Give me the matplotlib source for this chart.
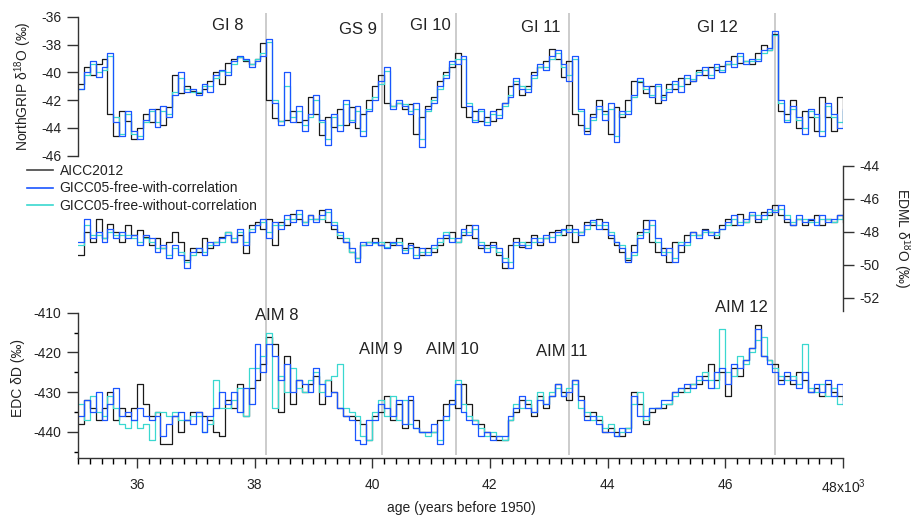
import numpy as np
import matplotlib
matplotlib.use("Agg")
import matplotlib.pyplot as plt
from matplotlib.ticker import MultipleLocator, FixedLocator, FixedFormatter
from matplotlib.lines import Line2D

plt.rcParams['font.family'] = ['Liberation Sans', 'DejaVu Sans']
plt.rcParams['mathtext.fontset'] = 'custom'
plt.rcParams['mathtext.rm'] = 'Liberation Sans'
plt.rcParams['mathtext.default'] = 'regular'
plt.rcParams['axes.unicode_minus'] = False

# ---------------- data (100-yr steps, 35.0 ka ... 48.0 ka) ----------------
age = list(range(35000, 48001, 100))

ngrip_aicc = [
    -40.8, -39.6, -40.2, -39.4, -39.0, -43.0, -44.6, -42.8, -43.5, -44.8,
    -44.0, -43.0, -43.6, -42.6, -43.8, -42.5, -40.2, -41.5, -41.0, -41.3,
    -41.5, -41.2, -40.6, -40.0, -40.8, -39.3, -39.0, -38.9, -39.2, -39.4,
    -39.0, -37.9, -42.0, -43.3, -43.5, -43.4, -42.8, -43.6, -43.4, -41.8,
    -43.0, -44.5, -43.2, -43.9, -42.6, -43.8, -42.5, -44.0, -43.0, -42.0,
    -41.0, -40.2, -42.2, -42.4, -42.2, -42.6, -42.3, -44.4, -43.2, -42.4,
    -41.8, -40.6, -40.0, -39.6, -38.6, -42.5, -43.2, -42.8, -43.5, -43.2,
    -43.5, -42.6, -42.2, -41.0, -40.8, -41.6, -41.0, -40.0, -39.6, -39.2,
    -38.3, -39.0, -40.3, -39.2, -43.0, -43.8, -44.2, -43.0, -42.0, -42.8,
    -44.4, -42.5, -43.2, -42.0, -40.6, -40.7, -41.5, -41.0, -42.2, -41.6,
    -40.8, -41.2, -40.4, -40.8, -40.6, -39.8, -40.2, -39.6, -39.8, -39.5,
    -39.4, -38.8, -39.3, -39.2, -39.4, -38.6, -38.0, -38.4, -37.2, -42.8,
    -43.0, -42.0, -44.0, -42.8, -43.2, -44.2, -41.8, -43.2, -44.2, -41.8,
    -43.6]
ngrip_with = [
    -41.2, -40.0, -39.2, -40.3, -39.6, -38.6, -43.6, -44.6, -42.8, -44.2,
    -44.8, -43.4, -42.6, -43.9, -42.4, -43.2, -41.6, -40.0, -41.4, -41.2,
    -41.6, -40.8, -41.4, -40.2, -39.8, -40.2, -39.2, -38.8, -39.0, -39.6,
    -39.2, -38.8, -37.6, -42.2, -43.8, -40.0, -43.6, -42.4, -44.2, -43.0,
    -41.6, -43.4, -45.2, -43.0, -44.2, -42.0, -43.6, -42.4, -44.6, -42.8,
    -42.0, -40.6, -39.6, -42.6, -42.0, -42.4, -43.0, -42.2, -45.4, -42.6,
    -42.2, -41.0, -40.4, -39.2, -39.4, -38.8, -42.4, -43.6, -42.6, -43.8,
    -42.8, -43.3, -42.2, -41.8, -40.4, -41.2, -41.4, -40.2, -39.4, -39.8,
    -38.8, -38.4, -39.4, -40.6, -38.8, -42.6, -44.4, -43.2, -42.4, -43.4,
    -42.2, -45.0, -42.8, -43.0, -41.6, -40.4, -41.0, -41.8, -40.8, -42.0,
    -41.4, -40.6, -41.4, -40.2, -40.6, -40.2, -39.6, -40.4, -39.4, -40.0,
    -39.2, -39.6, -38.6, -39.4, -39.0, -39.2, -38.4, -38.2, -37.0, -42.0,
    -43.6, -42.4, -43.2, -44.4, -42.6, -43.0, -44.6, -42.2, -43.0, -44.0,
    -42.6]
ngrip_without = [
    -41.2, -40.2, -39.4, -40.0, -39.8, -38.8, -43.2, -44.4, -43.0, -44.4,
    -44.6, -43.6, -42.8, -43.6, -42.8, -43.0, -41.4, -40.4, -41.2, -41.4,
    -41.4, -41.0, -41.0, -40.4, -39.9, -40.0, -39.4, -38.9, -39.1, -39.4,
    -39.0, -38.6, -37.8, -42.0, -43.5, -41.0, -43.2, -42.8, -43.8, -43.2,
    -42.0, -43.6, -44.8, -43.2, -43.8, -42.3, -43.4, -42.8, -44.2, -42.6,
    -41.8, -40.8, -39.9, -42.4, -42.2, -42.3, -42.8, -42.6, -44.8, -42.8,
    -42.0, -41.2, -40.2, -39.4, -39.0, -39.0, -42.2, -43.4, -42.8, -43.6,
    -43.0, -43.1, -42.4, -41.6, -40.6, -41.0, -41.2, -40.4, -39.6, -39.6,
    -39.0, -38.6, -39.6, -40.2, -39.0, -42.8, -44.0, -43.4, -42.6, -43.0,
    -42.6, -44.6, -43.0, -42.8, -41.8, -40.6, -41.2, -41.6, -41.0, -41.8,
    -41.2, -40.8, -41.0, -40.4, -40.5, -40.0, -39.8, -40.2, -39.6, -39.8,
    -39.4, -39.4, -38.8, -39.2, -39.2, -39.0, -38.6, -38.4, -37.3, -42.2,
    -43.4, -42.6, -43.4, -44.0, -42.8, -43.2, -44.2, -42.4, -43.2, -43.6,
    -42.8]

edml_aicc = [
    -49.4, -48.0, -48.6, -47.2, -48.4, -47.5, -48.0, -48.6, -47.6, -48.2,
    -47.9, -48.3, -48.8, -48.4, -49.0, -48.6, -48.0, -48.6, -49.7, -49.0,
    -49.2, -48.4, -49.0, -48.6, -48.3, -48.0, -48.6, -48.2, -49.3, -47.6,
    -47.4, -47.8, -47.2, -48.8, -47.4, -47.6, -46.9, -47.2, -47.4, -47.0,
    -47.2, -46.7, -47.4, -47.8, -48.4, -48.6, -49.2, -49.6, -48.8, -48.6,
    -48.4, -48.8, -48.6, -48.8, -48.4, -49.0, -48.7, -48.9, -49.4, -49.0,
    -49.2, -48.8, -48.4, -48.0, -48.6, -48.2, -47.6, -48.4, -49.0, -48.8,
    -48.6, -49.4, -50.2, -48.8, -48.4, -48.9, -48.6, -48.2, -48.8, -48.4,
    -48.0, -47.9, -48.2, -47.6, -48.6, -48.0, -47.4, -47.6, -47.2, -47.8,
    -48.4, -48.8, -49.2, -49.7, -48.8, -48.0, -47.3, -48.6, -49.2, -49.0,
    -49.8, -48.6, -49.2, -48.2, -48.0, -48.2, -47.8, -48.0, -48.4, -47.6,
    -47.2, -47.6, -46.9, -47.4, -47.0, -47.4, -46.8, -47.0, -46.4, -47.0,
    -47.4, -47.6, -47.2, -47.6, -47.3, -47.0, -47.6, -47.2, -47.4, -47.0,
    -47.4]
edml_with = [
    -48.6, -47.2, -48.4, -48.0, -48.6, -47.8, -48.4, -48.0, -48.4, -48.2,
    -48.8, -48.2, -48.4, -49.2, -48.8, -49.6, -48.8, -49.4, -50.2, -49.2,
    -49.0, -49.4, -48.6, -48.8, -48.4, -48.2, -48.6, -47.8, -48.8, -48.0,
    -47.6, -47.2, -48.4, -47.4, -47.8, -47.0, -47.4, -46.7, -47.6, -47.0,
    -47.4, -47.0, -46.6, -47.6, -48.0, -48.6, -49.0, -49.8, -48.6, -48.8,
    -48.6, -48.8, -49.0, -48.6, -48.8, -49.3, -48.8, -49.6, -49.0, -49.4,
    -48.8, -48.4, -48.2, -48.6, -48.4, -47.8, -48.2, -47.6, -48.8, -49.2,
    -48.8, -49.0, -49.8, -50.2, -48.6, -48.8, -49.0, -48.4, -48.6, -48.2,
    -48.6, -48.0, -47.8, -48.0, -47.8, -48.2, -47.6, -47.3, -47.8, -47.4,
    -48.2, -48.6, -49.0, -49.8, -49.2, -48.4, -47.8, -47.3, -48.4, -49.4,
    -49.0, -49.8, -48.8, -48.6, -48.0, -48.4, -47.9, -48.2, -48.0, -47.8,
    -47.4, -47.0, -47.6, -47.2, -46.8, -47.2, -47.0, -46.6, -46.8, -46.4,
    -47.2, -47.6, -47.0, -47.4, -47.2, -47.6, -47.0, -47.4, -47.2, -47.0,
    -47.2]
edml_without = [
    -48.8, -47.6, -48.2, -48.2, -48.4, -48.0, -48.2, -48.2, -48.2, -48.4,
    -48.6, -48.4, -48.6, -49.0, -49.0, -49.4, -49.0, -49.2, -49.8, -49.4,
    -49.0, -49.2, -48.8, -48.6, -48.6, -48.0, -48.4, -48.0, -48.6, -47.8,
    -47.6, -47.4, -48.0, -47.6, -47.6, -47.2, -47.2, -46.9, -47.4, -47.2,
    -47.2, -47.2, -46.8, -47.4, -48.2, -48.4, -49.2, -49.6, -48.8, -48.6,
    -48.7, -48.6, -48.9, -48.7, -48.6, -49.1, -49.0, -49.4, -49.2, -49.2,
    -49.0, -48.6, -48.0, -48.4, -48.6, -48.0, -48.0, -47.8, -48.6, -49.0,
    -48.9, -49.2, -49.6, -49.8, -48.8, -48.6, -48.8, -48.6, -48.4, -48.4,
    -48.3, -48.2, -47.9, -47.8, -48.0, -48.0, -47.8, -47.4, -47.6, -47.6,
    -48.0, -48.6, -48.8, -49.6, -49.4, -48.2, -48.0, -47.6, -48.6, -49.2,
    -49.2, -49.6, -48.6, -48.8, -48.2, -48.2, -48.0, -48.0, -48.2, -47.8,
    -47.6, -47.2, -47.4, -47.4, -47.0, -47.0, -47.2, -46.8, -46.7, -46.6,
    -47.0, -47.4, -47.2, -47.2, -47.4, -47.4, -47.2, -47.2, -47.4, -47.2,
    -47.0]

edc_aicc = [
    -438, -432, -434, -437, -434, -430, -437, -434, -436, -434,
    -428, -433, -436, -435, -443, -443, -436, -440, -437, -435,
    -435, -436, -437, -440, -441, -432, -434, -428, -436, -429,
    -427, -423, -416, -418, -435, -421, -433, -427, -430, -428,
    -426, -433, -427, -430, -434, -436, -436, -437, -438, -442,
    -436, -435, -431, -437, -433, -439, -432, -437, -440, -440,
    -440, -437, -433, -432, -434, -428, -433, -437, -438, -440,
    -441, -442, -442, -437, -435, -432, -433, -436, -431, -434,
    -431, -428, -430, -432, -427, -431, -436, -435, -437, -440,
    -439, -440, -441, -439, -430, -433, -438, -435, -434, -434,
    -433, -430, -430, -429, -428, -428, -426, -423, -427, -425,
    -431, -424, -426, -422, -419, -413, -421, -422, -423, -427,
    -426, -428, -425, -427, -430, -429, -431, -428, -430, -431,
    -432]
edc_with = [
    -436, -432, -435, -430, -437, -433, -429, -436, -435, -437,
    -434, -436, -437, -436, -441, -438, -436, -435, -437, -438,
    -435, -440, -436, -434, -430, -433, -430, -435, -429, -433,
    -418, -425, -418, -421, -427, -423, -430, -427, -428, -430,
    -424, -428, -431, -430, -434, -436, -437, -442, -443, -437,
    -437, -433, -434, -436, -432, -438, -431, -439, -440, -440,
    -438, -443, -436, -433, -428, -435, -437, -438, -441, -440,
    -442, -441, -441, -436, -434, -431, -434, -435, -432, -433,
    -431, -428, -431, -430, -427, -432, -437, -436, -438, -440,
    -440, -441, -439, -440, -431, -436, -436, -434, -434, -432,
    -432, -430, -429, -428, -429, -426, -427, -429, -425, -424,
    -428, -423, -424, -422, -419, -414, -421, -423, -425, -428,
    -425, -427, -429, -425, -430, -428, -430, -427, -431, -428,
    -433]
edc_without = [
    -433, -437, -431, -435, -436, -431, -434, -438, -439, -437,
    -439, -438, -442, -435, -435, -436, -435, -437, -437, -436,
    -436, -440, -438, -427, -434, -434, -432, -429, -436, -424,
    -424, -421, -415, -434, -426, -430, -424, -429, -430, -427,
    -425, -430, -427, -426, -423, -434, -435, -436, -441, -442,
    -435, -432, -436, -431, -437, -432, -438, -439, -440, -441,
    -440, -442, -437, -433, -427, -433, -436, -437, -439, -441,
    -440, -441, -442, -437, -433, -434, -432, -435, -430, -433,
    -430, -429, -431, -429, -428, -434, -435, -437, -436, -439,
    -438, -441, -440, -439, -433, -430, -437, -434, -434, -433,
    -433, -431, -429, -430, -428, -427, -425, -427, -429, -414,
    -425, -426, -421, -423, -420, -417, -416, -422, -424, -426,
    -427, -426, -428, -418, -429, -430, -428, -431, -429, -433,
    -431]

event_ages = [38200, 40170, 41430, 43350, 46840]
gi_labels = ["GI 8", "GS 9", "GI 10", "GI 11", "GI 12"]
aim_labels = ["AIM 8", "AIM 9", "AIM 10", "AIM 11", "AIM 12"]
series_names = ["AICC2012", "GICC05-free-with-correlation", "GICC05-free-without-correlation"]
xtick_vals = [36000, 38000, 40000, 42000, 44000, 46000, 48000]
xtick_text = ["36", "38", "40", "42", "44", "46", "48x10$^{3}$"]

# ---------------- styling ----------------
W, H = 911, 516
C_BLACK = "#1a1a1a"
C_BLUE = "#1a55ff"
C_CYAN = "#3ad8d0"
C_AX = "#333333"
C_TXT = "#222222"
LW = 0.9
XMIN, XMAX = 35000, 48000

fig = plt.figure(figsize=(W / 100, H / 100), dpi=100)


def px_axes(left, right, top, bottom, **kw):
    return fig.add_axes([left / W, 1 - bottom / H, (right - left) / W, (bottom - top) / H], **kw)


# vertical event lines (background)
ov = px_axes(78, 843, 13, 455)
ov.set_xlim(XMIN, XMAX)
ov.set_ylim(0, 1)
ov.axis("off")
ov.set_zorder(0)
for a in event_ages:
    ov.axvline(a, color="#c8c8c8", lw=1.3)

ax1 = px_axes(78, 843, 17, 155.7)
ax2 = px_axes(78, 843, 165.7, 311.2)
ax3 = px_axes(78, 843, 312.7, 458.3)

for ax in (ax1, ax2, ax3):
    ax.set_zorder(1)
    ax.patch.set_alpha(0)
    ax.set_xlim(XMIN, XMAX)
    for s in ax.spines.values():
        s.set_visible(False)
        s.set_color(C_AX)
        s.set_linewidth(1.0)
    ax.tick_params(colors=C_AX, labelcolor=C_TXT, labelsize=10)

# top panel
ax1.step(age, ngrip_aicc, where="post", color=C_BLACK, lw=LW)
ax1.step(age, ngrip_without, where="post", color=C_CYAN, lw=LW)
ax1.step(age, ngrip_with, where="post", color=C_BLUE, lw=LW)
ax1.set_ylim(-46, -36)
ax1.spines["left"].set_visible(True)
ax1.yaxis.set_major_locator(MultipleLocator(2))
ax1.tick_params(axis="y", direction="out", length=8, width=1, pad=4)
ax1.tick_params(axis="x", bottom=False, labelbottom=False)

# middle panel
ax2.step(age, edml_aicc, where="post", color=C_BLACK, lw=LW)
ax2.step(age, edml_without, where="post", color=C_CYAN, lw=LW)
ax2.step(age, edml_with, where="post", color=C_BLUE, lw=LW)
ax2.set_ylim(-52.8, -44)
ax2.spines["right"].set_visible(True)
ax2.yaxis.tick_right()
ax2.yaxis.set_major_locator(FixedLocator([-44, -46, -48, -50, -52]))
ax2.tick_params(axis="y", direction="out", length=8, width=1, pad=4)
ax2.tick_params(axis="x", bottom=False, labelbottom=False)

# bottom panel
ax3.step(age, edc_aicc, where="post", color=C_BLACK, lw=LW)
ax3.step(age, edc_without, where="post", color=C_CYAN, lw=LW)
ax3.step(age, edc_with, where="post", color=C_BLUE, lw=LW)
ax3.set_ylim(-446.7, -410)
ax3.spines["left"].set_visible(True)
ax3.spines["bottom"].set_visible(True)
ax3.yaxis.set_major_locator(FixedLocator([-410, -420, -430, -440]))
ax3.yaxis.set_minor_locator(FixedLocator([-415, -425, -435, -445]))
ax3.tick_params(axis="y", which="major", direction="out", length=8, width=1, pad=4)
ax3.tick_params(axis="y", which="minor", direction="out", length=3, width=1)
ax3.xaxis.set_major_locator(FixedLocator(xtick_vals))
ax3.xaxis.set_major_formatter(FixedFormatter(xtick_text))
ax3.xaxis.set_minor_locator(MultipleLocator(200))
ax3.tick_params(axis="x", which="major", direction="out", length=7, width=1, pad=7)
ax3.tick_params(axis="x", which="minor", direction="out", length=4, width=1)

# axis labels
fig.text(23 / W, 1 - 86 / H, "NorthGRIP δ$^{18}$O (‰)", rotation=90, ha="center", va="center",
         fontsize=10, color=C_TXT)
fig.text(902 / W, 1 - 238 / H, "EDML δ$^{18}$O (‰)", rotation=-90, ha="center", va="center",
         fontsize=10, color=C_TXT)
fig.text(18 / W, 1 - 378 / H, "EDC δD (‰)", rotation=90, ha="center", va="center",
         fontsize=10, color=C_TXT)
fig.text(461 / W, 1 - 508 / H, "age (years before 1950)", ha="center", va="center",
         fontsize=10, color=C_TXT)

# event annotations
gi_pos = [(228, 25), (358, 29), (430, 25), (541, 28), (717, 27)]
aim_pos = [(277, 315), (381, 349), (452, 350), (562, 351), (741, 307)]
for t, (x, y) in zip(gi_labels, gi_pos):
    fig.text(x / W, 1 - y / H, t, ha="center", va="center", fontsize=12, color=C_TXT)
for t, (x, y) in zip(aim_labels, aim_pos):
    fig.text(x / W, 1 - y / H, t, ha="center", va="center", fontsize=12, color=C_TXT)

# legend
handles = [Line2D([], [], color=c, lw=1.2) for c in ("#444444", C_BLUE, C_CYAN)]
fig.legend(handles, series_names, loc="upper left", bbox_to_anchor=(27 / W, 1 - 164 / H),
           frameon=False, fontsize=10, borderpad=0, borderaxespad=0, handlelength=1.85,
           handletextpad=0.5, labelspacing=0.25, labelcolor=C_TXT)

fig.savefig("out.png", dpi=100)
